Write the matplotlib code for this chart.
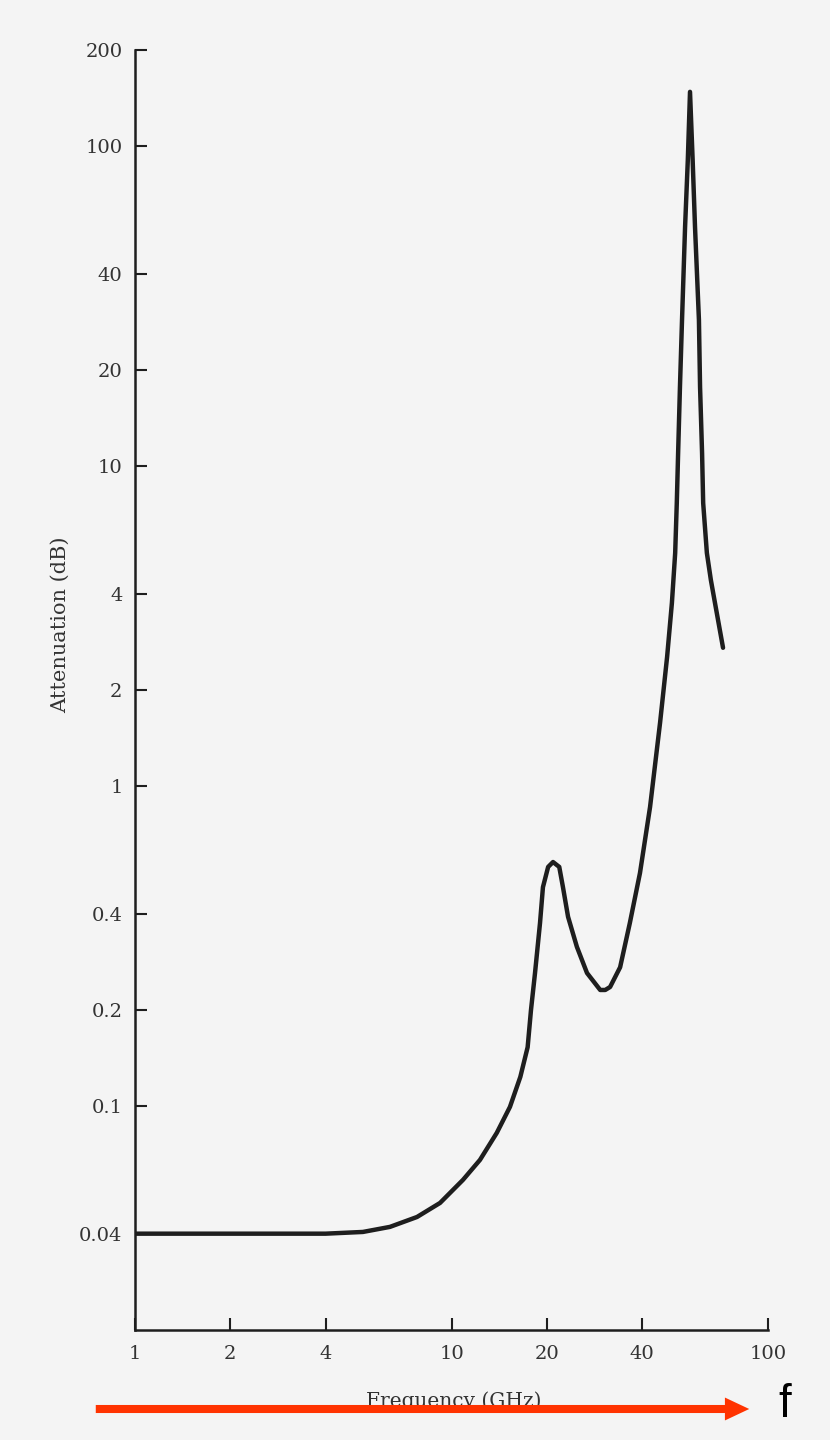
import matplotlib

matplotlib.use("Agg")
import matplotlib.pyplot as plt
from matplotlib.patches import FancyArrowPatch

# values
freq_ghz = [1, 2, 4, 5.25, 6.39, 7.78, 9.20, 10.87, 12.3, 13.9, 15.3, 16.5,
            17.4, 17.83, 18.36, 19.04, 19.45, 20.2, 20.93, 21.9, 22.5, 23.35,
            24.9, 26.8, 29.5, 30.6, 31.7, 34.1, 36.6, 39.4, 42.4, 45.6, 48.0,
            49.7, 50.9, 51.5, 52.0, 52.7, 53.5, 54.7, 55.8, 56.7, 57.8, 58.8,
            60.5, 61.0, 61.9, 62.4, 64.1, 66.0, 68.0, 72.1]
atten_db = [0.04, 0.04, 0.04, 0.0405, 0.042, 0.0451, 0.0499, 0.0589, 0.068,
            0.0826, 0.0996, 0.1236, 0.153, 0.2, 0.261, 0.374, 0.484, 0.56,
            0.58, 0.56, 0.484, 0.391, 0.315, 0.261, 0.231, 0.231, 0.236,
            0.272, 0.374, 0.536, 0.862, 1.58, 2.54, 3.74, 5.36, 7.68, 11.0,
            17.7, 28.7, 56, 90.6, 148, 90.6, 56, 28.7, 17.7, 11.0, 7.68,
            5.36, 4.41, 3.74, 2.71]

y_ticks = [0.04, 0.1, 0.2, 0.4, 1, 2, 4, 10, 20, 40, 100, 200]
y_ticklabels = ["0.04", "0.1", "0.2", "0.4", "1", "2", "4", "10", "20", "40", "100", "200"]
x_ticks = [1, 2, 4, 10, 20, 40, 100]
x_ticklabels = ["1", "2", "4", "10", "20", "40", "100"]

_ink = "#1e1e1e"
_paper = "#f4f4f4"
_arrow = "#ff3300"

plt.rcParams["font.family"] = ["DejaVu Serif"]

fig = plt.figure(figsize=(8.3, 14.4), dpi=100, facecolor=_paper)
ax = fig.add_axes([135 / 830, 110 / 1440, 633 / 830, 1280 / 1440])
ax.set_facecolor(_paper)

ax.plot(freq_ghz, atten_db, color=_ink, linewidth=3.2,
        solid_capstyle="round", solid_joinstyle="round")

ax.set_xscale("log")
ax.set_yscale("log")
ax.set_xlim(1, 100)
ax.set_ylim(0.02, 200)

ax.set_yticks(y_ticks)
ax.set_yticklabels(y_ticklabels)
ax.set_xticks(x_ticks)
ax.set_xticklabels(x_ticklabels)
ax.minorticks_off()

for side in ["top", "right"]:
    ax.spines[side].set_visible(False)
for side in ["left", "bottom"]:
    ax.spines[side].set_linewidth(1.8)
    ax.spines[side].set_color(_ink)

ax.tick_params(axis="both", direction="in", length=8.6, width=1.5,
               color=_ink, labelcolor="#333333", labelsize=14)
ax.tick_params(axis="y", pad=9)
ax.tick_params(axis="x", pad=11)

ax.set_ylabel("Attenuation (dB)", fontsize=15, color="#333333")
ax.yaxis.set_label_coords(-0.103, 0.551)
ax.set_xlabel("Frequency (GHz)", fontsize=14.5, color="#333333")
ax.xaxis.set_label_coords(0.503, -0.048)

# red arrow along the bottom with the "f" marker
arrow = FancyArrowPatch(
    (93 / 830, 1 - 1409 / 1440),
    (752 / 830, 1 - 1409 / 1440),
    transform=fig.transFigure,
    arrowstyle="simple,head_length=1.75,head_width=1.65,tail_width=0.58",
    mutation_scale=10,
    color=_arrow,
    linewidth=0,
)
fig.add_artist(arrow)
fig.text(785 / 830, 1 - 1417 / 1440, "f", fontsize=33, family="Liberation Sans",
         ha="center", va="baseline", color="black")

fig.savefig("out.png", dpi=100, facecolor=_paper)
